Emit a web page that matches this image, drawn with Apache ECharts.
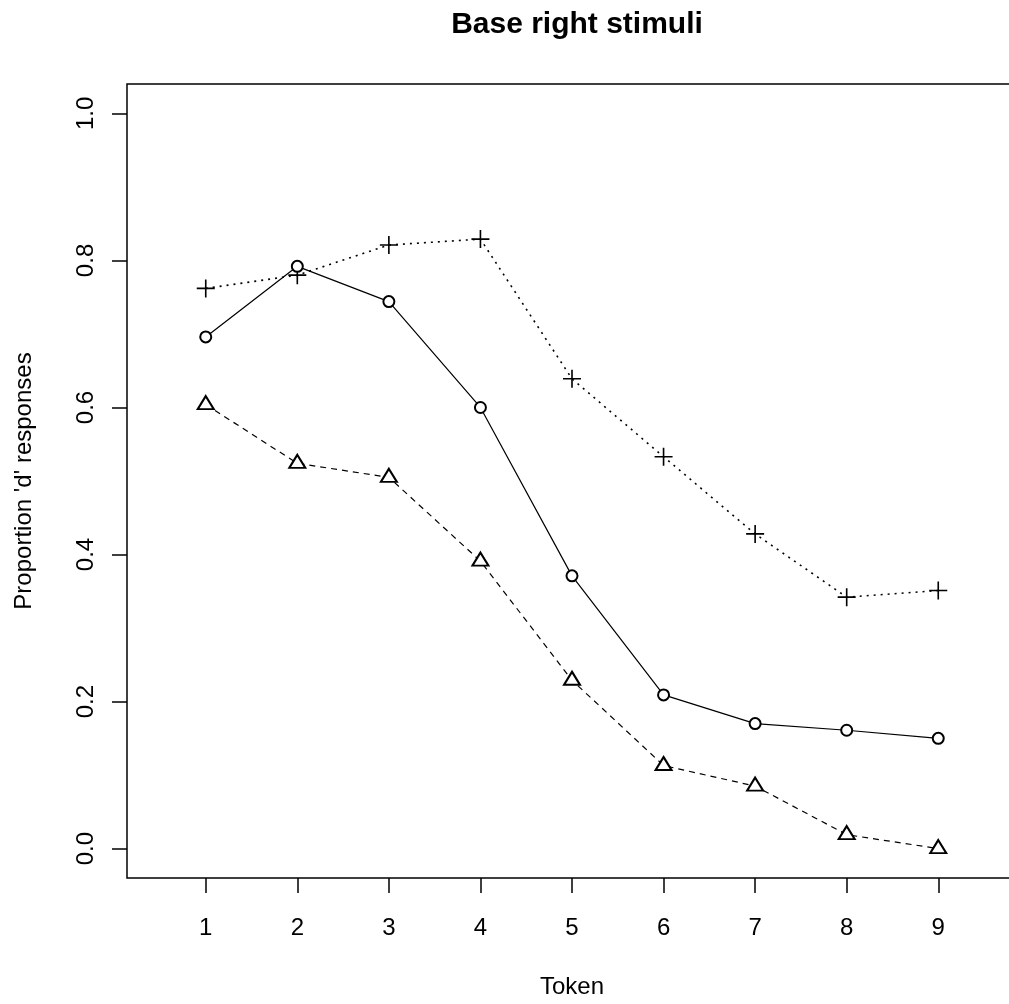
<!DOCTYPE html>
<html>
<head>
<meta charset="utf-8">
<style>
  html, body { margin: 0; padding: 0; background: #fff; }
  #chart { width: 1009px; height: 1004px; }
</style>
<script src="https://cdn.jsdelivr.net/npm/echarts@6/dist/echarts.min.js"></script>
</head>
<body>
<div id="chart"></div>
<script>
  // tokens on the x axis
  const tokens = [1, 2, 3, 4, 5, 6, 7, 8, 9]
  const yTicks = [0, 0.2, 0.4, 0.6, 0.8, 1.0]

  // three conditions
  const plusValues = [0.762, 0.780, 0.821, 0.829, 0.639, 0.533, 0.428, 0.342, 0.351]
  const circleValues = [0.696, 0.792, 0.744, 0.600, 0.371, 0.209, 0.170, 0.161, 0.150]
  const triangleValues = [0.604, 0.524, 0.505, 0.391, 0.229, 0.113, 0.085, 0.019, 0.000]

  const font = '"Liberation Sans", Arial, sans-serif'
  const ink = '#000'

  function pairs(vals) {
    return tokens.map((t, i) => [t, vals[i]])
  }

  const plusPath = 'path://M0,9.1H20V10.9H0Z M9.1,0H10.9V20H9.1Z'

  let chart = echarts.init(document.getElementById('chart'), null, {renderer: 'canvas'})

  chart.setOption({
    backgroundColor: '#fff',
    animation: false,
    title: {
      text: 'Base right stimuli',
      left: 572,
      top: 5,
      textAlign: 'center',
      textStyle: {
        fontFamily: font,
        fontWeight: 'bold',
        fontSize: 30,
        color: ink
      }
    },
    grid: {
      left: 127,
      width: 890,
      top: 84,
      bottom: 126,
      show: true,
      borderColor: ink,
      borderWidth: 1.5,
      containLabel: false,
      outerBoundsMode: 'none'
    },
    xAxis: {
      type: 'value',
      min: 0.14,
      max: 9.86,
      name: 'Token',
      nameLocation: 'middle',
      nameGap: 97,
      nameTextStyle: {fontFamily: font, fontSize: 24, color: ink, verticalAlign: 'top'},
      axisLine: {show: false, onZero: false},
      splitLine: {show: false},
      axisTick: {
        show: true,
        inside: false,
        length: 15,
        customValues: tokens,
        lineStyle: {color: ink, width: 1.5}
      },
      axisLabel: {
        customValues: tokens,
        margin: 38,
        fontFamily: font,
        fontSize: 24,
        color: ink,
        verticalAlign: 'top'
      }
    },
    yAxis: {
      type: 'value',
      min: -0.04,
      max: 1.04,
      name: "Proportion 'd' responses",
      nameLocation: 'middle',
      nameGap: 91,
      nameRotate: 90,
      nameTextStyle: {fontFamily: font, fontSize: 24, color: ink},
      axisLine: {show: false, onZero: false},
      splitLine: {show: false},
      axisTick: {
        show: true,
        inside: false,
        length: 15,
        customValues: yTicks,
        lineStyle: {color: ink, width: 1.5}
      },
      axisLabel: {
        customValues: yTicks,
        rotate: 90,
        margin: 29,
        fontFamily: font,
        fontSize: 24,
        color: ink,
        formatter: v => v.toFixed(1)
      }
    },
    series: [
      {
        name: 'plus',
        type: 'line',
        data: pairs(plusValues),
        symbol: plusPath,
        symbolSize: 18,
        itemStyle: {color: ink},
        lineStyle: {color: ink, width: 1.6, type: [2, 5]},
        z: 3
      },
      {
        name: 'circle',
        type: 'line',
        data: pairs(circleValues),
        symbol: 'emptyCircle',
        symbolSize: 11,
        itemStyle: {color: ink, borderColor: ink, borderWidth: 1.2},
        lineStyle: {color: ink, width: 1.2},
        z: 4
      },
      {
        name: 'triangle',
        type: 'line',
        data: pairs(triangleValues),
        symbol: 'emptyTriangle',
        symbolSize: [16, 13],
        symbolOffset: [0, -2],
        itemStyle: {color: ink, borderColor: ink, borderWidth: 1.5},
        lineStyle: {color: ink, width: 1.2, type: [6, 5]},
        z: 5
      }
    ]
  })
</script>
</body>
</html>
